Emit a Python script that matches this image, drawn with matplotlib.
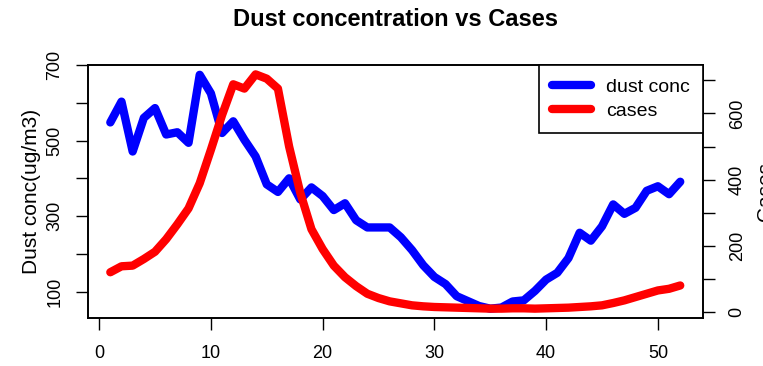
import numpy as np
import matplotlib
matplotlib.use('Agg')
import matplotlib.pyplot as plt

plt.rcParams['font.family'] = ['Liberation Sans', 'DejaVu Sans']

# weekly values
weeks = np.arange(1, 53)
dust = [548, 603, 471, 560, 586, 516, 522, 494, 674, 625,
        520, 551, 502, 458, 384, 364, 400, 344, 376, 353,
        316, 334, 289, 270, 270, 270, 244, 210, 170, 139,
        120, 88, 75, 62, 55, 58, 74, 77, 102, 132,
        150, 189, 256, 235, 273, 331, 306, 322, 367, 379,
        358, 391]
cases = [120, 138, 140, 160, 182, 220, 265, 313, 389, 490,
         595, 688, 675, 718, 705, 675, 500, 360, 250, 190,
         140, 105, 78, 55, 42, 32, 26, 20, 17, 15,
         14, 13, 12, 11, 10, 10, 11, 11, 10, 11,
         12, 13, 15, 17, 20, 27, 35, 45, 55, 65,
         70, 80]

xticks = [0, 10, 20, 30, 40, 50]
left_ticks = [100, 200, 300, 400, 500, 600, 700]
left_labels = ['100', '', '300', '', '500', '', '700']
right_ticks = [0, 100, 200, 300, 400, 500, 600, 700]
right_labels = ['0', '', '200', '', '400', '', '600', '']


def r_range(v):
    # R style 4% padding around the data
    lo, hi = min(v), max(v)
    d = 0.04 * (hi - lo)
    return lo - d, hi + d


fig = plt.figure(figsize=(7.63, 3.66), dpi=100)
ax = fig.add_axes([0.1147, 0.1311, 0.8067, 0.6913])
ax2 = ax.twinx()

lw = 6
l1, = ax.plot(weeks, dust, color='blue', lw=lw,
              solid_capstyle='round', solid_joinstyle='round', label='dust conc')
l2, = ax2.plot(weeks, cases, color='red', lw=lw,
               solid_capstyle='round', solid_joinstyle='round', label='cases')

ax.set_xlim(r_range(weeks))
ax.set_ylim(r_range(dust))
ax2.set_ylim(r_range(cases))

ax.set_xticks(xticks)
ax.set_yticks(left_ticks)
ax.set_yticklabels(left_labels, rotation=90, va='center')
ax2.set_yticks(right_ticks)
ax2.set_yticklabels(right_labels, rotation=90, va='center')

for a in (ax, ax2):
    for s in a.spines.values():
        s.set_linewidth(1.2)
ax.tick_params(axis='x', length=8.5, width=1, pad=11, labelsize=13)
ax.tick_params(axis='y', length=8.5, width=1, pad=9, labelsize=13)
ax2.tick_params(axis='y', length=8.5, width=1, pad=10, labelsize=13)

ax.set_ylabel('Dust conc(ug/m3)', fontsize=15, labelpad=4)
# sits mostly past the right edge, as in the original
ax2.set_ylabel('Cases', fontsize=15, labelpad=7.5)

ax.set_title('Dust concentration vs Cases', fontsize=17, fontweight='bold', pad=28)

leg = ax2.legend([l1, l2], ['dust conc', 'cases'], loc='upper right',
                 borderaxespad=0, fancybox=False, framealpha=1,
                 edgecolor='black', fontsize=14, handlelength=2.0,
                 handletextpad=0.75, borderpad=0.7, labelspacing=0.3)
leg.get_frame().set_linewidth(1.2)

fig.savefig('out.png', dpi=100)
